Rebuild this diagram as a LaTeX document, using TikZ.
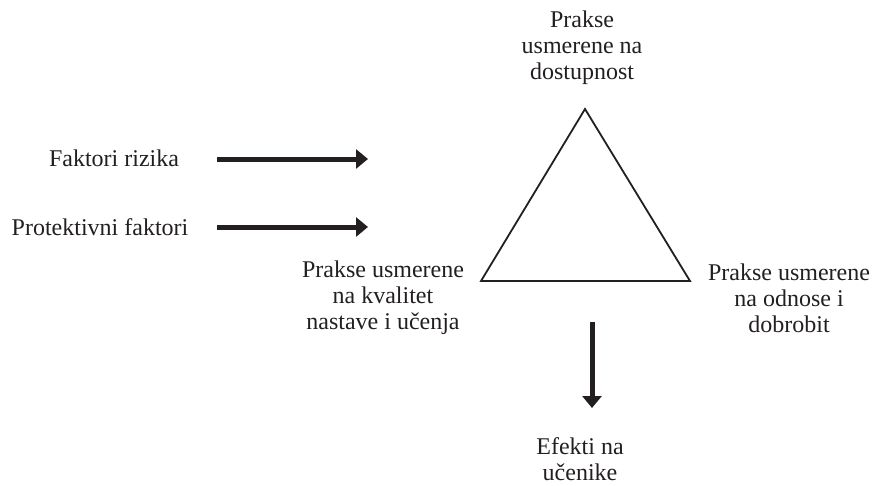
\documentclass[tikz,border=0pt]{standalone}
\usepackage{fontspec}
\setmainfont{Liberation Serif}
\usetikzlibrary{arrows.meta}
\definecolor{ink}{HTML}{231F20}
\tikzset{
  label text/.style={align=center, inner sep=0pt, text=ink,
    font=\fontsize{24}{26}\selectfont},
  flow arrow/.style={draw=ink, line width=5pt,
    -{Triangle[length=12pt,width=19pt]}},
  frame/.style={draw=ink, line width=1.8pt, line join=miter}
}
\begin{document}
\begin{tikzpicture}[x=1pt,y=-1pt]
  \useasboundingbox (0,0) rectangle (872,485);
  % triangle corners
  \coordinate (top) at (585,109);
  \coordinate (bl) at (481,281);
  \coordinate (br) at (690,281);
  \draw[frame] (top) -- (bl) -- (br) -- cycle;
  % labels
  \node[label text] (access) at (582,48) {Prakse\\usmerene na\\dostupnost};
  \node[label text] (quality) at (383,298) {Prakse usmerene\\na kvalitet\\nastave i učenja};
  \node[label text] (relations) at (789,298) {Prakse usmerene\\na odnose i\\dobrobit};
  \node[label text] (effects) at (580,459) {Efekti na\\učenike};
  \node[label text] (risk) at (114,158) {Faktori rizika};
  \node[label text] (protect) at (100,227) {Protektivni faktori};
  % arrows
  \coordinate (r1) at (217,159);
  \coordinate (r2) at (368,159);
  \coordinate (p1) at (217,227);
  \coordinate (p2) at (368,227);
  \coordinate (d1) at (592,322);
  \coordinate (d2) at (592,408);
  \draw[flow arrow] (r1) -- (r2);
  \draw[flow arrow] (p1) -- (p2);
  \draw[flow arrow] (d1) -- (d2);
\end{tikzpicture}
\end{document}
